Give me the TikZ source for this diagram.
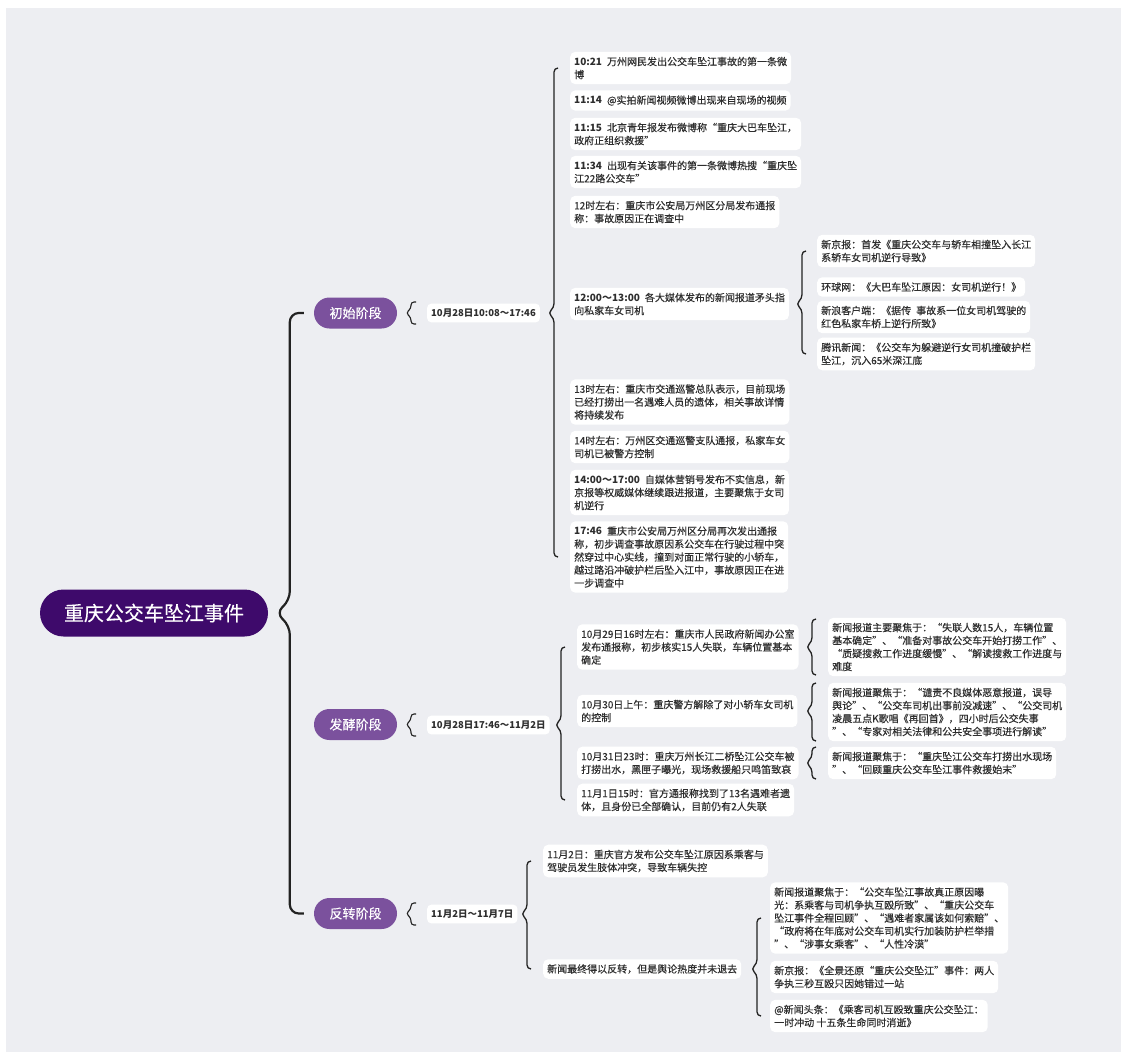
\documentclass[tikz,border=0pt]{standalone}
\usepackage{fontspec}
\setmainfont{Noto Sans CJK SC}[UprightFeatures={FakeBold=0.35}]
\usetikzlibrary{calc}
\definecolor{bgc}{HTML}{EDEEF2}
\definecolor{rootc}{HTML}{3E0A6B}
\definecolor{stagec}{HTML}{7B519D}
\definecolor{txtc}{HTML}{2E2E2E}
\definecolor{linec}{HTML}{222222}
\newcommand\itemfont{\fontsize{10}{13}\selectfont}
\newcommand\brc[7]{%
  \coordinate (bt) at ($(#2.west)+(-#4,-#7)$);
  \coordinate (bb) at ($(bt |- #3.west)+(0,#7)$);
  \coordinate (bm) at (bt |- #1.east);
  \draw[br] ($(bt)+(#5,0)$) -- (bt) -- ($(bm)+(0,-#6*0.9)$) -- ($(bm)+(-#6,0)$) -- ($(bm)+(0,#6*0.9)$) -- (bb) -- ($(bb)+(#5,0)$);
}
\tikzset{
  item/.style={fill=white, rounded corners=5pt, inner xsep=4pt, inner ysep=5pt, align=left, font=\itemfont, text=txtc, anchor=west},
  datebox/.style={fill=white, rounded corners=4pt, inner xsep=4pt, inner ysep=5pt, font=\bfseries\fontsize{9.5}{12}\selectfont, text=txtc, anchor=west},
  rootnode/.style={fill=rootc, rounded corners=23.5pt, minimum width=228pt, minimum height=47pt, text=white, font=\fontsize{20}{24}\selectfont},
  stagenode/.style={fill=stagec, rounded corners=15.5pt, minimum width=83pt, minimum height=31pt, text=white, font=\fontsize{13}{16}\selectfont},
  br/.style={draw=linec, line width=1.3pt, rounded corners=4pt},
}
\begin{document}
\begin{tikzpicture}[x=1pt,y=-1pt]
\useasboundingbox (0,0) rectangle (1121,1052);
\fill[white] (0,0) rectangle (1121,1052);
\fill[bgc] (6,8) rectangle (1121,1052);

% root and stages
\node[rootnode] (root) at (154,613) {重庆公交车坠江事件};
\node[stagenode] (st1) at (355.5,313) {初始阶段};
\node[stagenode] (st2) at (355.5,724.5) {发酵阶段};
\node[stagenode] (st3) at (355.5,913.5) {反转阶段};

\node[datebox] (d1) at (427,313) {10月28日10:08～17:46};
\node[datebox] (d2) at (427,725) {10月28日17:46～11月2日};
\node[datebox] (d3) at (427,914) {11月2日～11月7日};

% stage 1
\node[item] (a1) at (570,68) {\textbf{10:21}\enspace 万州网民发出公交车坠江事故的第一条微\\博};
\node[item] (a2) at (570,100.5) {\textbf{11:14}\enspace @实拍新闻视频微博出现来自现场的视频};
\node[item] (a3) at (570,134) {\textbf{11:15}\enspace 北京青年报发布微博称“重庆大巴车坠江，\\政府正组织救援”};
\node[item] (a4) at (570,172) {\textbf{11:34}\enspace 出现有关该事件的第一条微博热搜“重庆坠\\江22路公交车”};
\node[item] (a5) at (570,212) {12时左右：重庆市公安局万州区分局发布通报\\称：事故原因正在调查中};
\node[item] (a6) at (570,304) {\textbf{12:00～13:00}\enspace 各大媒体发布的新闻报道矛头指\\向私家车女司机};
\node[item] (a7) at (570,402) {13时左右：重庆市交通巡警总队表示，目前现场\\已经打捞出一名遇难人员的遗体，相关事故详情\\将持续发布};
\node[item] (a8) at (570,447) {14时左右：万州区交通巡警支队通报，私家车女\\司机已被警方控制};
\node[item] (a9) at (570,492.5) {\textbf{14:00～17:00}\enspace 自媒体营销号发布不实信息，新\\京报等权威媒体继续跟进报道，主要聚焦于女司\\机逆行};
\node[item] (a10) at (570,557) {\textbf{17:46}\enspace 重庆市公安局万州区分局再次发出通报\\称，初步调查事故原因系公交车在行驶过程中突\\然穿过中心实线，撞到对面正常行驶的小轿车，\\越过路沿冲破护栏后坠入江中，事故原因正在进\\一步调查中};

\node[item] (f1) at (817,251) {新京报：首发《重庆公交车与轿车相撞坠入长江\\系轿车女司机逆行导致》};
\node[item] (f2) at (817,287) {环球网：《大巴车坠江原因：女司机逆行！》};
\node[item] (f3) at (817,317) {新浪客户端：《据传\enspace 事故系一位女司机驾驶的\\红色私家车桥上逆行所致》};
\node[item] (f4) at (817,354) {腾讯新闻：《公交车为躲避逆行女司机撞破护栏\\坠江，沉入65米深江底};

% stage 2
\node[item] (b1) at (577,647) {10月29日16时左右：重庆市人民政府新闻办公室\\发布通报称，初步核实15人失联，车辆位置基本\\确定};
\node[item] (b2) at (577,711) {10月30日上午：重庆警方解除了对小轿车女司机\\的控制};
\node[item] (b3) at (577,763) {10月31日23时：重庆万州长江二桥坠江公交车被\\打捞出水，黑匣子曝光，现场救援船只鸣笛致哀};
\node[item] (b4) at (577,800) {11月1日15时：官方通报称找到了13名遇难者遗\\体，且身份已全部确认，目前仍有2人失联};

\node[item] (g1) at (828,647) {新闻报道主要聚焦于：“失联人数15人，车辆位置\\基本确定”、“准备对事故公交车开始打捞工作”、\\“质疑搜救工作进度缓慢”、“解读搜救工作进度与\\难度};
\node[item] (g2) at (828,712) {新闻报道聚焦于：“谴责不良媒体恶意报道，误导\\舆论”、“公交车司机出事前没减速”、“公交司机\\凌晨五点K歌唱《再回首》，四小时后公交失事\\”、“专家对相关法律和公共安全事项进行解读”};
\node[item] (g3) at (828,763) {新闻报道聚焦于：“重庆坠江公交车打捞出水现场\\”、“回顾重庆公交车坠江事件救援始末”};

% stage 3
\node[item] (c1) at (543,861) {11月2日：重庆官方发布公交车坠江原因系乘客与\\驾驶员发生肢体冲突，导致车辆失控};
\node[item] (c2) at (543,969) {新闻最终得以反转，但是舆论热度并未退去};

\node[item] (h1) at (770,918) {新闻报道聚焦于：“公交车坠江事故真正原因曝\\光：系乘客与司机争执互殴所致”、“重庆公交车\\坠江事件全程回顾”、“遇难者家属该如何索赔”、\\“政府将在年底对公交车司机实行加装防护栏举措\\”、“涉事女乘客”、“人性冷漠”};
\node[item] (h2) at (770,977) {新京报：《全景还原“重庆公交坠江”事件：两人\\争执三秒互殴只因她错过一站};
\node[item] (h3) at (770,1016) {@新闻头条：《乘客司机互殴致重庆公交坠江：\\一时冲动 十五条生命同时消逝》};

% braces
\begin{scope}[br/.style={draw=linec, line width=2.2pt, rounded corners=9pt}]
\brc{root}{st1}{st3}{24}{14}{14}{0}
\end{scope}
\begin{scope}[br/.style={draw=linec, line width=1.1pt, rounded corners=3pt}]
\brc{st1}{d1}{d1}{16}{5}{5}{11}
\brc{st2}{d2}{d2}{16}{5}{5}{11}
\brc{st3}{d3}{d3}{16}{5}{5}{11}
\end{scope}
\brc{d1}{a1}{a10}{16}{4}{6}{0}
\brc{d2}{b1}{b4}{16}{4}{6}{0}
\brc{d3}{c1}{c2}{16}{4}{6}{0}
\brc{a6}{f1}{f4}{15}{4}{6}{0}
\brc{b1}{g1}{g1}{16}{4}{6}{28}
\brc{b2}{g2}{g2}{16}{4}{6}{29}
\brc{b3}{g3}{g3}{16}{4}{6}{16}
\brc{c2}{h1}{h3}{13}{4}{6}{0}
\end{tikzpicture}
\end{document}
